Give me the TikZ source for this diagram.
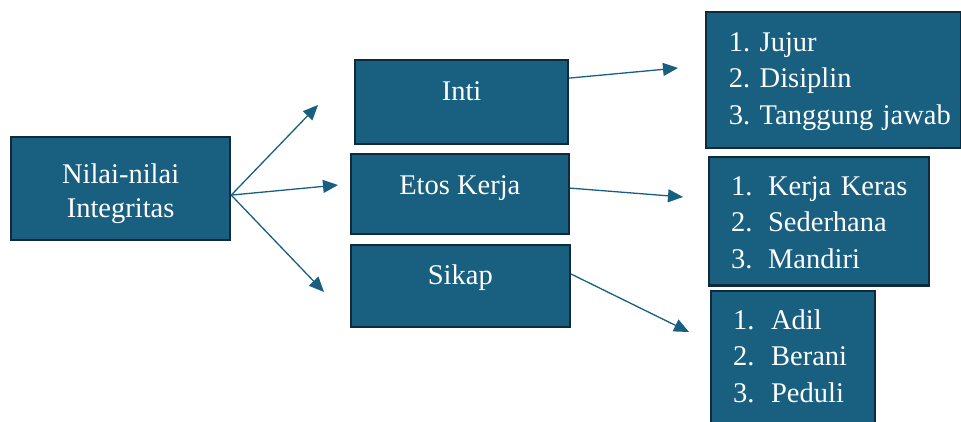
\documentclass[tikz,border=0pt]{standalone}
\usepackage{fontspec}
\setmainfont{Liberation Serif}
\usetikzlibrary{arrows.meta}
\definecolor{boxblue}{RGB}{24,95,128}
\definecolor{boxedge}{RGB}{14,42,60}

\begin{document}
\begin{tikzpicture}[x=1pt,y=-1pt,
	box/.style={draw=boxedge, fill=boxblue, line width=2.2pt, text=white, inner ysep=0pt, anchor=north west, font=\fontsize{28.5}{36.6}\selectfont\frenchspacing},
	arr/.style={draw=boxblue, line width=1.3pt, -{Triangle[length=15pt,width=13pt]}}]
	\useasboundingbox (0,0) rectangle (961,422);
	% left box
	\node[box, text width=199pt, inner xsep=10pt, align=center, text height=46pt, text depth=57pt, font=\fontsize{28.5}{34}\selectfont] (nilai) at (10,136) {Nilai-nilai\\Integritas};
	% middle boxes
	\node[box, minimum width=213pt, text height=39.7pt, text depth=43.7pt] (inti) at (354,59.3) {Inti};
	\node[box, minimum width=218pt, text height=39.7pt, text depth=40.3pt] (etos) at (349.7,153.3) {Etos Kerja};
	\node[box, minimum width=219pt, text height=39pt, text depth=42.7pt] (sikap) at (349.7,244) {Sikap};
	% lists
	\node[box, text width=210pt, inner xsep=22.7pt, align=left, text height=39pt, text depth=96.7pt] (listinti) at (705,11)
		{1. Jujur\\2. Disiplin\\\mbox{3. Tanggung jawab}};
	\node[box, text width=175.7pt, inner xsep=22pt, align=left, text height=38.3pt, text depth=90.3pt] (listetos) at (708,155.7)
		{\makebox[37pt][l]{1.}\mbox{Kerja Keras}\\\makebox[37pt][l]{2.}Sederhana\\\makebox[37pt][l]{3.}Mandiri};
	\node[box, text width=120pt, inner xsep=22pt, align=left, text height=38pt, text depth=130pt] (listsikap) at (710,290)
		{\makebox[38pt][l]{1.}Adil\\\makebox[38pt][l]{2.}Berani\\\makebox[38pt][l]{3.}Peduli};
	% arrow ends
	\coordinate (a1) at (318,105);
	\coordinate (a2) at (338,185);
	\coordinate (a3) at (324,292);
	\coordinate (b1) at (678,68);
	\coordinate (b2) at (683,197);
	\coordinate (b3) at (689,332);
	\foreach \t in {a1,a2,a3} {\draw[arr] ([yshift=-6.5pt]nilai.east) -- (\t);}
	\draw[arr] ([yshift=24pt]inti.east) -- (b1);
	\draw[arr] ([yshift=6.3pt]etos.east) -- (b2);
	\draw[arr] ([yshift=12pt]sikap.east) -- (b3);
\end{tikzpicture}
\end{document}
